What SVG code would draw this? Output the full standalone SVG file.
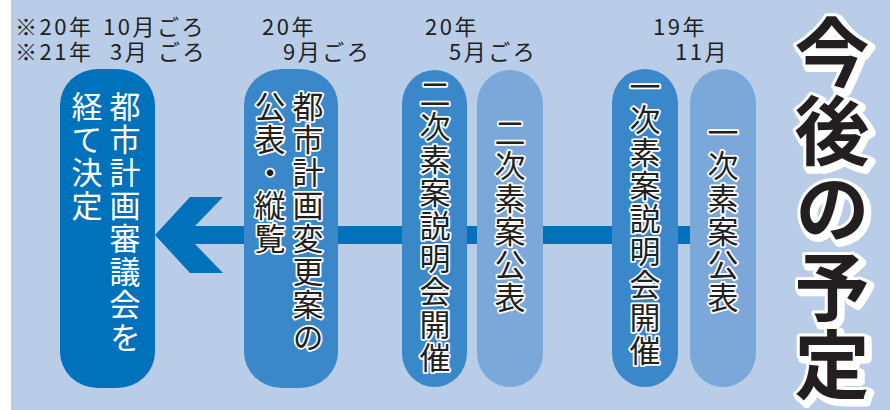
<svg xmlns="http://www.w3.org/2000/svg" width="890" height="410" viewBox="0 0 890 410">
<style>
text{font-family:"Noto Sans CJK JP","Noto Sans",sans-serif}
.hd{font-size:22px;fill:#231f20;letter-spacing:2.5px}
.v{font-size:31px;writing-mode:vertical-rl;letter-spacing:2px}
.w{fill:#fff}
.k{fill:#231f20;stroke:#fff;stroke-width:3.5px;stroke-linejoin:round;paint-order:stroke}
.dark{fill:#0071bb}
.mid{fill:#3a88c9}
.light{fill:#7ba7d9}
.ttl{font-size:75px;font-weight:700;writing-mode:vertical-rl;letter-spacing:3px}
</style>
<rect x="0" y="0" width="890" height="410" fill="#fff"/>
<rect x="11" y="0" width="879" height="410" fill="#b9cde9"/>
<g id="connectors">
<rect x="190" y="226" width="533" height="18" fill="#0071bb"/>
<polygon points="155,235 190,197 223,197 195,226 195,244 223,273 190,273" fill="#0071bb"/>
</g>
<g id="headers">
<text class="hd"><tspan x="15" y="35">※20年</tspan><tspan x="103" y="35">10月ごろ</tspan><tspan x="15" y="60">※21年</tspan><tspan x="110" y="60">3月</tspan><tspan x="158" y="60">ごろ</tspan></text>
<text class="hd"><tspan x="262" y="35">20年</tspan><tspan x="283" y="60">9月ごろ</tspan></text>
<text class="hd"><tspan x="425" y="35">20年</tspan><tspan x="449" y="60">5月ごろ</tspan></text>
<text class="hd"><tspan x="653" y="35">19年</tspan><tspan x="675" y="60">11月</tspan></text>
</g>
<g id="node-decide">
<rect class="dark" x="60" y="69" width="95" height="319" rx="38" ry="36"/>
<text class="v w" x="125" y="91">都市計画審議会を</text>
<text class="v w" x="87" y="91">経て決定</text>
</g>
<g id="node-public-change">
<rect class="mid" x="244" y="69" width="94" height="319" rx="38" ry="36"/>
<text class="v k" x="308" y="91">都市計画変更案の</text>
<text class="v k" x="270" y="91">公表・縦覧</text>
</g>
<g id="node-second-briefing">
<rect class="mid" x="402" y="70" width="65" height="317" rx="32.5" ry="34"/>
<text class="v k" x="435" y="78">二次素案説明会開催</text>
</g>
<g id="node-second-public">
<rect class="light" x="477" y="70" width="66" height="317" rx="33" ry="34"/>
<text class="v k" x="510" y="117">二次素案公表</text>
</g>
<g id="node-first-briefing">
<rect class="mid" x="612" y="69" width="66" height="318" rx="33" ry="34"/>
<text class="v k" x="645" y="71">一次素案説明会開催</text>
</g>
<g id="node-first-public">
<rect class="light" x="690" y="69" width="66" height="318" rx="33" ry="34"/>
<text class="v k" x="723" y="117">一次素案公表</text>
</g>
<g id="title">
<text class="ttl" x="835" y="18" fill="#fff" stroke="#fff" stroke-width="9" stroke-linejoin="round">今後の予定</text>
<text class="ttl" x="832" y="15" fill="#231f20" stroke="#fff" stroke-width="6" stroke-linejoin="round" paint-order="stroke">今後の予定</text>
</g>
</svg>
